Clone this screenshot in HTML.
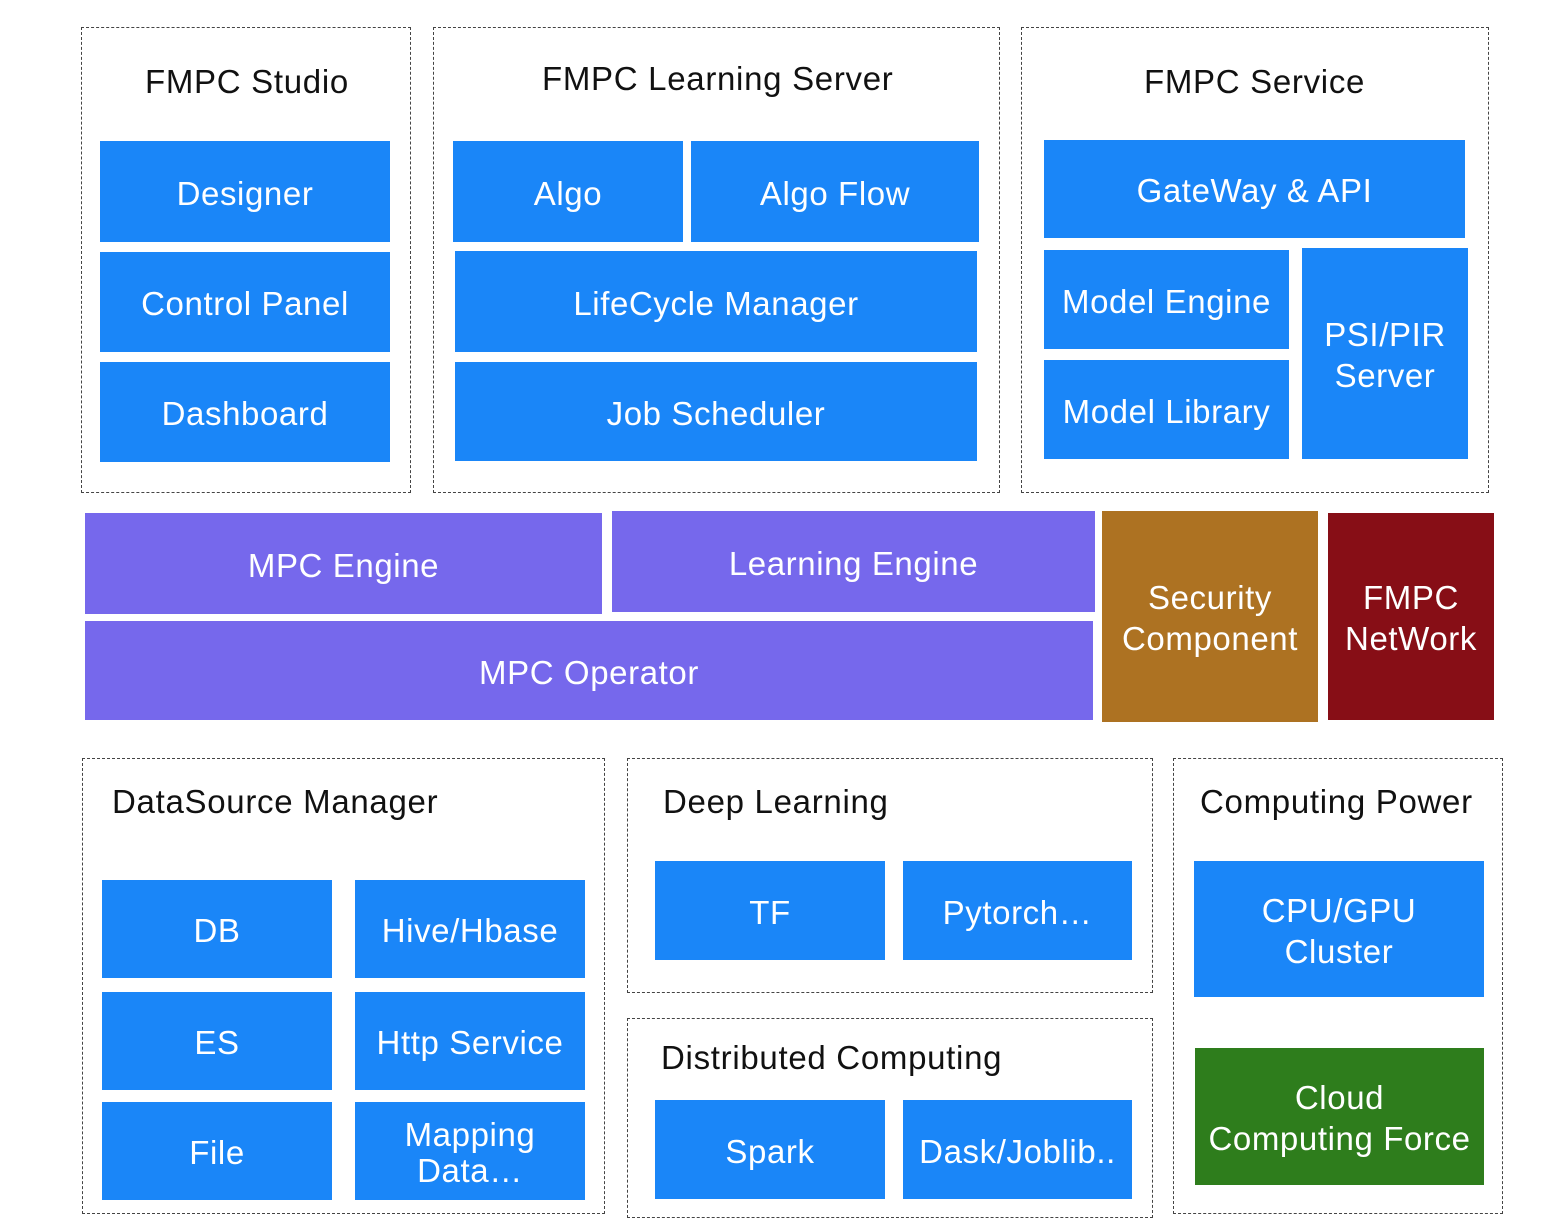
<!DOCTYPE html>
<html><head><style>
body{margin:0;width:1550px;height:1232px;background:#fff;position:relative;overflow:hidden;font-family:"Liberation Sans",sans-serif}
.d{position:absolute;border:1.5px dashed #444;box-sizing:border-box}
.t{position:absolute;font-size:33px;letter-spacing:0.7px;color:#111;white-space:nowrap}
.b{position:absolute;background:#1a86f8;color:#fff;font-size:33px;letter-spacing:0.6px;display:flex;align-items:center;justify-content:center;text-align:center;line-height:41px;box-sizing:border-box;padding-top:3px}
.p{background:#7668ec}
</style></head><body>
<div class="d" style="left:81px;top:27px;width:330px;height:466px"></div>
<div class="d" style="left:433px;top:27px;width:567px;height:466px"></div>
<div class="d" style="left:1021px;top:27px;width:468px;height:466px"></div>
<div class="d" style="left:82px;top:758px;width:523px;height:456px"></div>
<div class="d" style="left:627px;top:758px;width:526px;height:235px"></div>
<div class="d" style="left:627px;top:1018px;width:526px;height:200px"></div>
<div class="d" style="left:1173px;top:758px;width:330px;height:456px"></div>

<div class="t" style="left:145px;top:63px">FMPC Studio</div>
<div class="t" style="left:542px;top:60px">FMPC Learning Server</div>
<div class="t" style="left:1144px;top:63px">FMPC Service</div>
<div class="t" style="left:112px;top:783px">DataSource Manager</div>
<div class="t" style="left:663px;top:783px">Deep Learning</div>
<div class="t" style="left:661px;top:1039px">Distributed Computing</div>
<div class="t" style="left:1200px;top:783px">Computing Power</div>

<div class="b" style="left:100px;top:141px;width:290px;height:101px">Designer</div>
<div class="b" style="left:100px;top:252px;width:290px;height:100px">Control Panel</div>
<div class="b" style="left:100px;top:362px;width:290px;height:100px">Dashboard</div>
<div class="b" style="left:453px;top:141px;width:230px;height:101px">Algo</div>
<div class="b" style="left:691px;top:141px;width:288px;height:101px">Algo Flow</div>
<div class="b" style="left:455px;top:251px;width:522px;height:101px">LifeCycle Manager</div>
<div class="b" style="left:455px;top:362px;width:522px;height:99px">Job Scheduler</div>
<div class="b" style="left:1044px;top:140px;width:421px;height:98px">GateWay &amp; API</div>
<div class="b" style="left:1044px;top:250px;width:245px;height:99px">Model Engine</div>
<div class="b" style="left:1044px;top:360px;width:245px;height:99px">Model Library</div>
<div class="b" style="left:1302px;top:248px;width:166px;height:211px">PSI/PIR<br>Server</div>

<div class="b p" style="left:85px;top:513px;width:517px;height:101px">MPC Engine</div>
<div class="b p" style="left:612px;top:511px;width:483px;height:101px">Learning Engine</div>
<div class="b p" style="left:85px;top:621px;width:1008px;height:99px">MPC Operator</div>
<div class="b" style="left:1102px;top:511px;width:216px;height:211px;background:#ad7222">Security<br>Component</div>
<div class="b" style="left:1328px;top:513px;width:166px;height:207px;background:#870e16">FMPC<br>NetWork</div>

<div class="b" style="left:102px;top:880px;width:230px;height:98px">DB</div>
<div class="b" style="left:355px;top:880px;width:230px;height:98px">Hive/Hbase</div>
<div class="b" style="left:102px;top:992px;width:230px;height:98px">ES</div>
<div class="b" style="left:355px;top:992px;width:230px;height:98px">Http Service</div>
<div class="b" style="left:102px;top:1102px;width:230px;height:98px">File</div>
<div class="b" style="left:355px;top:1102px;width:230px;height:98px;line-height:36px">Mapping<br>Data…</div>
<div class="b" style="left:655px;top:861px;width:230px;height:99px">TF</div>
<div class="b" style="left:903px;top:861px;width:229px;height:99px">Pytorch…</div>
<div class="b" style="left:655px;top:1100px;width:230px;height:99px">Spark</div>
<div class="b" style="left:903px;top:1100px;width:229px;height:99px">Dask/Joblib..</div>
<div class="b" style="left:1194px;top:861px;width:290px;height:136px">CPU/GPU<br>Cluster</div>
<div class="b" style="left:1195px;top:1048px;width:289px;height:137px;background:#2e7d1c">Cloud<br>Computing Force</div>
</body></html>
